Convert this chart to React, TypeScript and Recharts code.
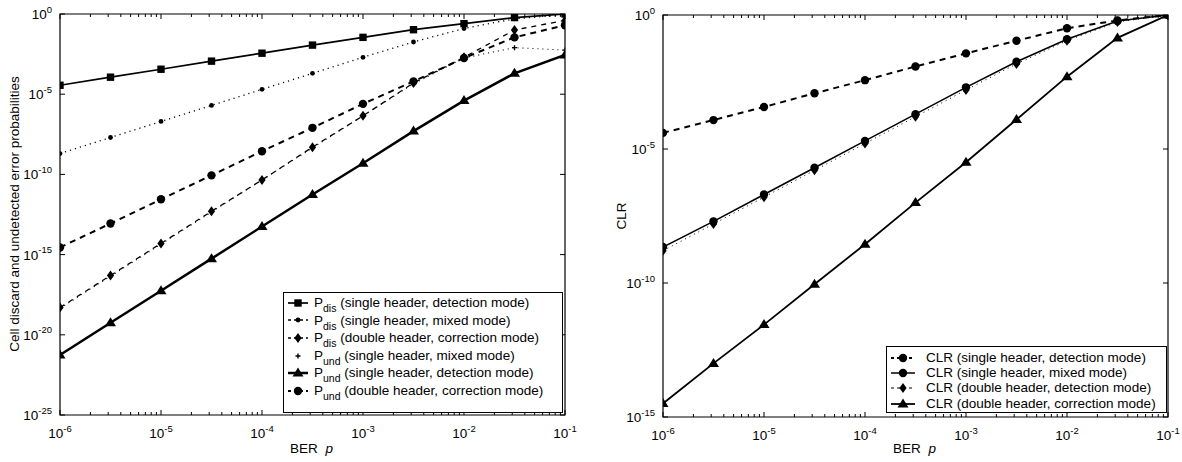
import React from 'react';
import { LineChart, Line, XAxis, YAxis, ReferenceArea } from 'recharts';

// BER values (x axis), half-decade steps
const berValues = [1e-6, 3.162e-6, 1e-5, 3.162e-5, 1e-4, 3.162e-4, 1e-3, 3.162e-3, 1e-2, 3.162e-2, 1e-1];

// left panel series
const pDisSingleDet = [3.6e-5, 1.15e-4, 3.6e-4, 1.15e-3, 3.6e-3, 1.15e-2, 3.5e-2, 0.105, 0.25, 0.6, 1.0];
const pDisSingleMixed = [2e-9, 2e-8, 2e-7, 2e-6, 2e-5, 2e-4, 2e-3, 1.8e-2, 0.125, 0.5, 0.9];
const pDisDoubleCorr = [5e-19, 5e-17, 5e-15, 5e-13, 4.5e-11, 5e-9, 4.5e-7, 5e-5, 2e-3, 0.1, 0.4];
const pUndSingleMixed = [4.5e-19, 4.5e-17, 4.5e-15, 4.5e-13, 4.5e-11, 4.5e-9, 4.5e-7, 4.5e-5, 1.8e-3, 8e-3, 5.6e-3];
const pUndSingleDet = [5.6e-22, 5.6e-20, 5.6e-18, 5.6e-16, 5.6e-14, 5.6e-12, 5e-10, 5e-8, 4e-6, 2e-4, 2.8e-3];
const pUndDoubleCorr = [2.8e-15, 8.7e-14, 2.8e-12, 8.7e-11, 2.8e-9, 8e-8, 2.5e-6, 6.3e-5, 1.8e-3, 3.5e-2, 0.2];

// right panel series
const clrSingleDet = [4e-5, 1.2e-4, 3.7e-4, 1.2e-3, 3.7e-3, 1.2e-2, 3.7e-2, 0.11, 0.32, 0.63, 1.0];
const clrSingleMixed = [2.2e-9, 2e-8, 2e-7, 2e-6, 2e-5, 2e-4, 2e-3, 1.8e-2, 0.125, 0.6, 1.0];
const clrDoubleDet = [1.6e-9, 1.6e-8, 1.6e-7, 1.6e-6, 1.6e-5, 1.6e-4, 1.6e-3, 1.5e-2, 0.11, 0.55, 1.0];
const clrDoubleCorr = [3.2e-15, 1e-13, 2.8e-12, 9e-11, 2.8e-9, 1e-7, 3.2e-6, 1.26e-4, 5e-3, 0.14, 1.0];

// tick labels (exponents)
const xMajorExp = [-6, -5, -4, -3, -2, -1];
const leftYExp = [0, -5, -10, -15, -20, -25];
const rightYExp = [0, -5, -10, -15];

const FONT = '"Liberation Sans", Arial, Helvetica, sans-serif';

const leftData = berValues.map((p, i) => ({
  p,
  pDisSingleDet: pDisSingleDet[i],
  pDisSingleMixed: pDisSingleMixed[i],
  pDisDoubleCorr: pDisDoubleCorr[i],
  pUndSingleMixed: pUndSingleMixed[i],
  pUndSingleDet: pUndSingleDet[i],
  pUndDoubleCorr: pUndDoubleCorr[i],
}));

const rightData = berValues.map((p, i) => ({
  p,
  clrSingleDet: clrSingleDet[i],
  clrSingleMixed: clrSingleMixed[i],
  clrDoubleDet: clrDoubleDet[i],
  clrDoubleCorr: clrDoubleCorr[i],
}));

const xTicks: number[] = [];
xMajorExp.forEach((e) => {
  const d = Math.pow(10, e);
  xTicks.push(d);
  if (e < -1) for (let k = 2; k <= 9; k++) xTicks.push(k * d);
});

type Shape = 'square' | 'dot' | 'diamond' | 'plus' | 'triangle' | 'circle';

function Marker({ cx, cy, shape }: { cx: number; cy: number; shape: Shape }) {
  if (cx == null || cy == null || isNaN(cx) || isNaN(cy)) return null;
  switch (shape) {
    case 'square':
      return <rect x={cx - 3.7} y={cy - 3.7} width={7.4} height={7.4} fill="#000" />;
    case 'dot':
      return <circle cx={cx} cy={cy} r={2.4} fill="#000" />;
    case 'diamond':
      return <path d={`M${cx},${cy - 5}L${cx + 3.6},${cy}L${cx},${cy + 5}L${cx - 3.6},${cy}Z`} fill="#000" />;
    case 'plus':
      return <path d={`M${cx - 2.5},${cy}H${cx + 2.5}M${cx},${cy - 2.5}V${cy + 2.5}`} stroke="#000" strokeWidth={1.4} />;
    case 'triangle':
      return <path d={`M${cx},${cy - 5.5}L${cx + 5.5},${cy + 3.5}L${cx - 5.5},${cy + 3.5}Z`} fill="#000" />;
    case 'circle':
      return <circle cx={cx} cy={cy} r={4.2} fill="#000" />;
  }
  return null;
}

function dotFor(shape: Shape, name: string) {
  return (props: any) => <Marker key={`${name}-${props.index}`} cx={props.cx} cy={props.cy} shape={shape} />;
}

function isMajor(v: number) {
  const e = Math.log10(v);
  return Math.abs(e - Math.round(e)) < 1e-6;
}

function XTick({ x, y, payload, plotH }: any) {
  const v = payload.value;
  const major = isMajor(v);
  const len = major ? 5 : 3;
  return (
    <g>
      <line x1={x} y1={y} x2={x} y2={y - len} stroke="#000" strokeWidth={1} />
      <line x1={x} y1={y - plotH} x2={x} y2={y - plotH + len} stroke="#000" strokeWidth={1} />
      {major && (
        <text x={x} y={y + 23} textAnchor="middle" fontFamily={FONT} fontSize={13.5} fill="#000">
          10
          <tspan fontSize={9.5} dy={-6.5}>{Math.round(Math.log10(v))}</tspan>
        </text>
      )}
    </g>
  );
}

function YTick({ x, y, payload, plotW }: any) {
  const e = Math.round(Math.log10(payload.value));
  return (
    <g>
      <line x1={x} y1={y} x2={x + 5} y2={y} stroke="#000" strokeWidth={1} />
      <line x1={x + plotW} y1={y} x2={x + plotW - 5} y2={y} stroke="#000" strokeWidth={1} />
      <text x={x - 8} y={y + 5} textAnchor="end" fontFamily={FONT} fontSize={13.5} fill="#000">
        10
        <tspan fontSize={9.5} dy={-6.5}>{e}</tspan>
      </text>
    </g>
  );
}

type SeriesDef = { key: string; shape: Shape; width: number; dash?: string; label: React.ReactNode };

const sub = (s: string) => <sub style={{ fontSize: 10.5, verticalAlign: -5, lineHeight: 0 }}>{s}</sub>;

const leftSeries: SeriesDef[] = [
  { key: 'pDisSingleDet', shape: 'square', width: 1.7, label: <>P{sub('dis')} (single header, detection mode)</> },
  { key: 'pDisSingleMixed', shape: 'dot', width: 1.3, dash: '1.2 4', label: <>P{sub('dis')} (single header, mixed mode)</> },
  { key: 'pDisDoubleCorr', shape: 'diamond', width: 1.3, dash: '5 5', label: <>P{sub('dis')} (double header, correction mode)</> },
  { key: 'pUndSingleMixed', shape: 'plus', width: 1.1, dash: '1 4', label: <>P{sub('und')} (single header, mixed mode)</> },
  { key: 'pUndSingleDet', shape: 'triangle', width: 2.5, label: <>P{sub('und')} (single header, detection mode)</> },
  { key: 'pUndDoubleCorr', shape: 'circle', width: 2, dash: '6 5', label: <>P{sub('und')} (double header, correction mode)</> },
];

const rightSeries: SeriesDef[] = [
  { key: 'clrSingleDet', shape: 'circle', width: 2, dash: '6 5', label: 'CLR (single header, detection mode)' },
  { key: 'clrSingleMixed', shape: 'circle', width: 1.5, label: 'CLR (single header, mixed mode)' },
  { key: 'clrDoubleDet', shape: 'diamond', width: 1, dash: '1 4', label: 'CLR (double header, detection mode)' },
  { key: 'clrDoubleCorr', shape: 'triangle', width: 1.8, label: 'CLR (double header, correction mode)' },
];

function LegendBox({
  series,
  left,
  top,
  width,
  height,
  rowH,
  padTop,
  iconW,
  gap,
}: {
  series: SeriesDef[];
  left: number;
  top: number;
  width: number;
  height: number;
  rowH: number;
  padTop: number;
  iconW: number;
  gap: number;
}) {
  return (
    <div
      style={{
        position: 'absolute',
        left,
        top,
        width,
        height,
        border: '1.3px solid #000',
        background: '#fff',
        fontFamily: FONT,
        fontSize: 13.5,
        paddingTop: padTop,
        boxSizing: 'border-box',
      }}
    >
      {series.map((s) => (
        <div key={s.key} style={{ display: 'flex', alignItems: 'center', height: rowH, whiteSpace: 'nowrap' }}>
          <svg width={iconW} height={12} style={{ marginLeft: 3, marginRight: gap, flex: 'none' }}>
            {s.shape !== 'plus' && (
              <line x1={1} y1={6} x2={iconW - 1} y2={6} stroke="#000" strokeWidth={s.width} strokeDasharray={s.dash ? '3 3' : undefined} />
            )}
            <Marker cx={iconW / 2} cy={6} shape={s.shape} />
          </svg>
          <span style={{ lineHeight: 1 }}>{s.label}</span>
        </div>
      ))}
    </div>
  );
}

function Panel({ data, series, yTicks, yDomain, width, height, margin, yWidth, xHeight }: any) {
  const plotW = width - margin.left - margin.right - yWidth;
  const plotH = height - margin.top - margin.bottom - xHeight;
  return (
    <LineChart width={width} height={height} data={data} margin={margin}>
      <XAxis
        dataKey="p"
        type="number"
        scale="log"
        domain={[1e-6, 0.1]}
        ticks={xTicks}
        interval={0}
        allowDataOverflow
        height={xHeight}
        tickSize={0}
        tickMargin={0}
        tickLine={false}
        axisLine={false}
        tick={(p: any) => <XTick {...p} plotH={plotH} />}
      />
      <YAxis
        type="number"
        scale="log"
        domain={yDomain}
        ticks={yTicks}
        interval={0}
        allowDataOverflow
        width={yWidth}
        tickSize={0}
        tickMargin={0}
        tickLine={false}
        axisLine={false}
        tick={(p: any) => <YTick {...p} plotW={plotW} />}
      />
      <ReferenceArea x1={1e-6} x2={0.1} y1={yDomain[0]} y2={yDomain[1]} fill="none" stroke="#000" strokeWidth={1.2} ifOverflow="visible" />
      {series.map((s: SeriesDef) => (
        <Line
          key={s.key}
          dataKey={s.key}
          type="linear"
          stroke="#000"
          strokeWidth={s.width}
          strokeDasharray={s.dash}
          dot={dotFor(s.shape, s.key)}
          activeDot={false}
          isAnimationActive={false}
        />
      ))}
    </LineChart>
  );
}

export default function App() {
  return (
    <div style={{ position: 'absolute', left: 0, top: 0, width: 1182, height: 462, background: '#fff' }}>
      <div style={{ position: 'absolute', left: 0, top: 0 }}>
        <Panel
          data={leftData}
          series={leftSeries}
          yTicks={leftYExp.map((e) => Math.pow(10, e))}
          yDomain={[1e-25, 1]}
          width={600}
          height={462}
          margin={{ top: 14, right: 35, bottom: 0, left: 0 }}
          yWidth={60}
          xHeight={47}
        />
      </div>
      <div style={{ position: 'absolute', left: 600, top: 0 }}>
        <Panel
          data={rightData}
          series={rightSeries}
          yTicks={rightYExp.map((e) => Math.pow(10, e))}
          yDomain={[1e-15, 1]}
          width={582}
          height={462}
          margin={{ top: 15, right: 14, bottom: 0, left: 0 }}
          yWidth={63}
          xHeight={45}
        />
      </div>
      <svg width={1182} height={462} style={{ position: 'absolute', left: 0, top: 0, pointerEvents: 'none' }}>
        <text x={0} y={0} transform="translate(19,214) rotate(-90)" textAnchor="middle" fontFamily={FONT} fontSize={13.5} fill="#000">
          Cell discard and undetected error probabilities
        </text>
        <text x={0} y={0} transform="translate(626,216) rotate(-90)" textAnchor="middle" fontFamily={FONT} fontSize={13.5} fill="#000">
          CLR
        </text>
        <text x={290} y={453} fontFamily={FONT} fontSize={13.5} fill="#000">
          BER <tspan dx={4} fontStyle="italic">p</tspan>
        </text>
        <text x={893} y={453} fontFamily={FONT} fontSize={13.5} fill="#000">
          BER <tspan dx={4} fontStyle="italic">p</tspan>
        </text>
      </svg>
      <LegendBox series={leftSeries} left={283} top={292} width={280} height={121} rowH={17.6} padTop={1} iconW={22} gap={5} />
      <LegendBox series={rightSeries} left={886} top={346} width={281} height={67} rowH={15.3} padTop={3} iconW={26} gap={10} />
    </div>
  );
}
